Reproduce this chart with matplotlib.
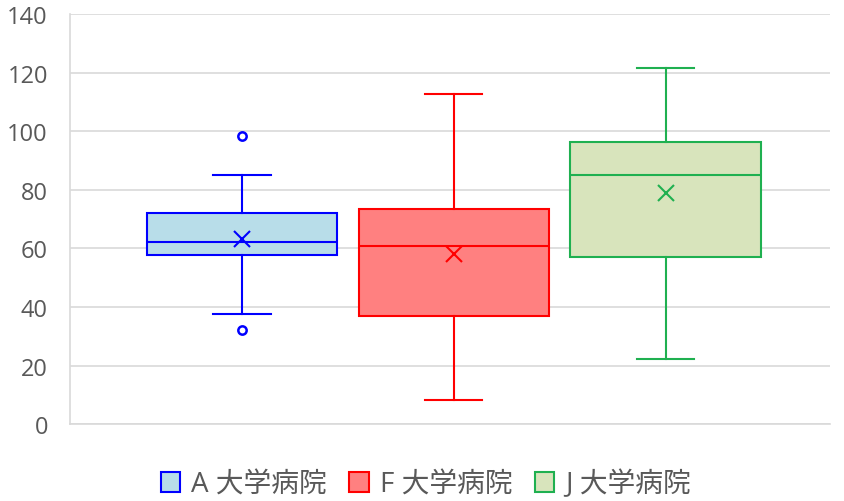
import matplotlib.pyplot as plt

plt.rcParams['font.family'] = ['Open Sans', 'Noto Sans CJK JP', 'DejaVu Sans']

# Box statistics
labels = ['A 大学病院', 'F 大学病院', 'J 大学病院']
whislo = [37.5, 8.2, 22.2]
q1 = [57.7, 36.9, 57.0]
med = [62.1, 60.8, 85.0]
q3 = [72.0, 73.4, 96.2]
whishi = [85.0, 112.6, 121.5]
means = [63.1, 58.0, 78.8]
fliers = [[98.3, 32.1], [], []]

edge_colors = ['#0000FF', '#FF0000', '#1FB050']
face_colors = ['#B8DDE9', '#FF8080', '#D8E4BC']

stats = []
for i in range(len(labels)):
    stats.append(dict(label=labels[i], whislo=whislo[i], q1=q1[i], med=med[i],
                      q3=q3[i], whishi=whishi[i], mean=means[i], fliers=fliers[i]))

fig, ax = plt.subplots(figsize=(8.45, 5.02), dpi=100)
fig.subplots_adjust(left=0.083, right=0.982, top=0.97, bottom=0.153)

positions = [1, 2, 3]
for i, s in enumerate(stats):
    c = edge_colors[i]
    ax.bxp([s], positions=[positions[i]], widths=0.9, patch_artist=True,
           showmeans=True, capwidths=0.27,
           boxprops=dict(facecolor=face_colors[i], edgecolor=c, linewidth=1.5),
           medianprops=dict(color=c, linewidth=1.5),
           whiskerprops=dict(color=c, linewidth=1.5),
           capprops=dict(color=c, linewidth=1.5),
           meanprops=dict(marker='x', markeredgecolor=c, markersize=11, markeredgewidth=1.5),
           flierprops=dict(marker='o', markerfacecolor='white', markeredgecolor=c,
                           markersize=6, markeredgewidth=1.8))

ax.set_xlim(0.189, 3.774)
ax.set_ylim(0, 140)
ax.set_yticks(range(0, 141, 20))
ax.set_xticks([])
ax.yaxis.grid(True, color='#D9D9D9', linewidth=1.2)
ax.set_axisbelow(True)
for side in ['top', 'right']:
    ax.spines[side].set_visible(False)
ax.spines['left'].set_color('#D9D9D9')
ax.spines['bottom'].set_color('#D9D9D9')
ax.spines['left'].set_linewidth(1.2)
ax.spines['bottom'].set_linewidth(1.2)
ax.tick_params(axis='y', length=0, labelsize=17, labelcolor='#595959', pad=16)

handles = [plt.Rectangle((0, 0), 1, 1, facecolor=face_colors[i], edgecolor=edge_colors[i],
                         linewidth=1.5) for i in range(len(labels))]
leg = fig.legend(handles, labels, loc='lower center', bbox_to_anchor=(0.504, -0.045), ncol=3,
                 frameon=False, fontsize=20, handlelength=0.7, handleheight=0.7,
                 handletextpad=0.4, columnspacing=0.8)
for t in leg.get_texts():
    t.set_color('#595959')

fig.savefig('out.png', dpi=100)
